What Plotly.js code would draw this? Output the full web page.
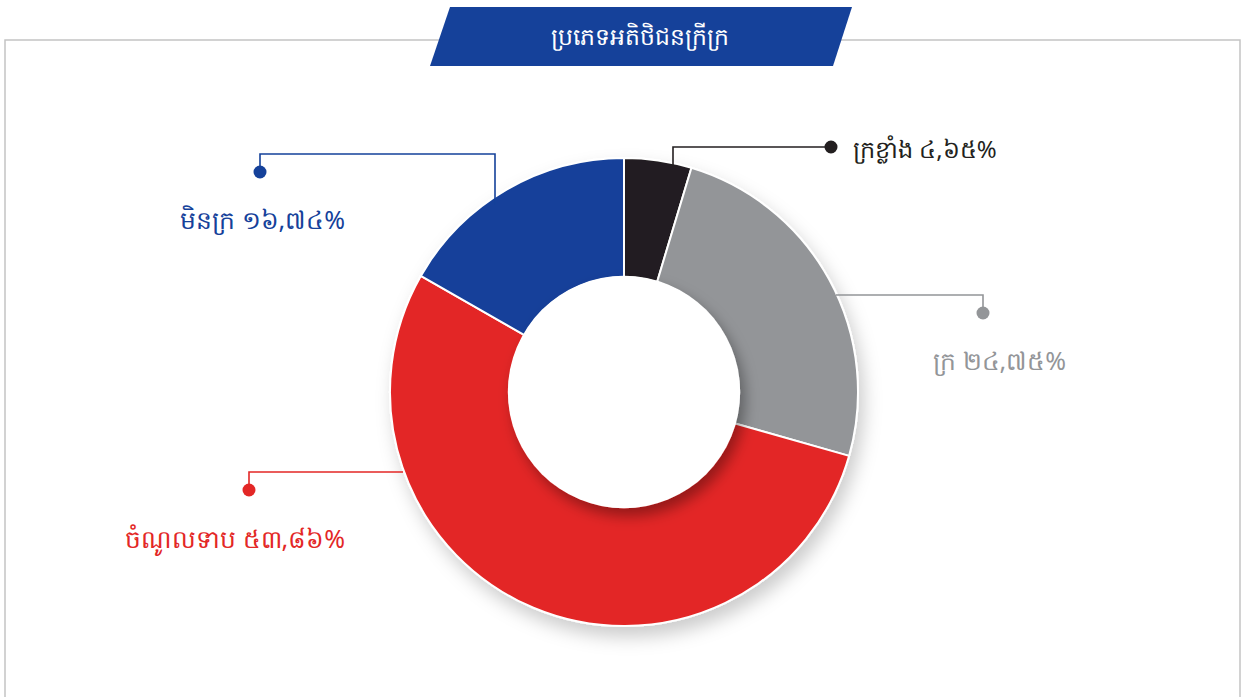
<!DOCTYPE html>
<html>
<head>
<meta charset="utf-8">
<script src="https://cdn.plot.ly/plotly-3.0.1.min.js"></script>
<style>html,body{margin:0;padding:0;background:#fff;}#chart{width:1242px;height:697px;}</style>
</head>
<body>
<div id="chart"></div>
<script>
const categories = ["ក្រខ្លាំង", "ក្រ", "ចំណូលទាប", "មិនក្រ"];
const values = [4.65, 24.75, 53.86, 16.74];
const valueLabels = ["៤,៦៥%", "២៤,៧៥%", "៥៣,៨៦%", "១៦,៧៤%"];
const colors = ["#231f20", "#939598", "#e32726", "#15419a"];
const chartTitle = "ប្រភេទអតិថិជនក្រីក្រ";

const W = 1242, H = 697;
const px = x => x / W;
const py = y => 1 - y / H;
const FONT = "Noto Sans, DejaVu Sans, sans-serif";

const cx = 624, cy = 392, R = 234, HOLE = 0.49;

const data = [{
  type: "pie",
  labels: categories,
  values: values,
  sort: false,
  direction: "clockwise",
  rotation: 0,
  hole: HOLE,
  textinfo: "none",
  hoverinfo: "label+percent",
  marker: { colors: colors, line: { color: "#ffffff", width: 2 } },
  domain: { x: [px(cx - R), px(cx + R)], y: [py(cy + R), py(cy - R)] },
  showlegend: false
}];

const shapes = [];
const lineShape = (pts, color) => ({
  type: "path", xref: "paper", yref: "paper", layer: "above",
  path: "M " + pts.map(p => px(p[0]) + "," + py(p[1])).join(" L "),
  line: { color: color, width: 1.6 }
});
const dot = (x, y, color) => ({
  type: "circle", xref: "paper", yref: "paper", layer: "above",
  x0: px(x - 6.5), x1: px(x + 6.5), y0: py(y + 6.5), y1: py(y - 6.5),
  fillcolor: color, line: { color: color, width: 0 }
});

// frame (index 0)
shapes.push({ type: "path", xref: "paper", yref: "paper", layer: "below",
  path: `M ${px(5)},${py(700)} L ${px(5)},${py(40)} L ${px(1240)},${py(40)} L ${px(1240)},${py(700)}`,
  line: { color: "#c4c4c4", width: 1.5 } });
// white hole disk with its own shadow (index 1)
const hr = R * HOLE + 1.5;
shapes.push({ type: "circle", xref: "paper", yref: "paper", layer: "above",
  x0: px(cx - hr), x1: px(cx + hr), y0: py(cy + hr), y1: py(cy - hr),
  fillcolor: "#ffffff", line: { width: 0 } });
// banner
shapes.push({ type: "path", xref: "paper", yref: "paper", layer: "above",
  path: `M ${px(450)},${py(7)} L ${px(852)},${py(7)} L ${px(833)},${py(66)} L ${px(430)},${py(66)} Z`,
  fillcolor: "#15419a", line: { width: 0 } });

// leader lines
shapes.push(lineShape([[673, 166], [673, 147], [831, 147]], colors[0]));
shapes.push(dot(831, 147, colors[0]));
shapes.push(lineShape([[836, 295], [983, 295], [983, 313]], colors[1]));
shapes.push(dot(983, 313, colors[1]));
shapes.push(lineShape([[403, 472], [249, 472], [249, 490]], colors[2]));
shapes.push(dot(249, 490, colors[2]));
shapes.push(lineShape([[495, 205], [495, 154], [260, 154], [260, 172]], colors[3]));
shapes.push(dot(260, 172, colors[3]));

const ann = (x, y, text, color, anchor, size) => ({
  xref: "paper", yref: "paper", x: px(x), y: py(y), text: text,
  showarrow: false, xanchor: anchor, yanchor: "middle",
  font: { family: FONT, size: size || 25, color: color }
});

const annotations = [
  { xref: "paper", yref: "paper", x: px(640), y: py(36), text: chartTitle, showarrow: false,
    xanchor: "center", yanchor: "middle", font: { family: FONT, size: 23.5, color: "#ffffff" } },
  ann(851, 149, categories[0] + " " + valueLabels[0], colors[0], "left", 24),
  ann(1068, 360, categories[1] + " " + valueLabels[1], colors[1], "right"),
  ann(347, 538, categories[2] + " " + valueLabels[2], colors[2], "right"),
  ann(347, 219, categories[3] + " " + valueLabels[3], colors[3], "right")
];

const layout = {
  width: W, height: H,
  margin: { l: 0, r: 0, t: 0, b: 0 },
  paper_bgcolor: "#ffffff",
  showlegend: false,
  shapes: shapes,
  annotations: annotations
};

Plotly.newPlot("chart", data, layout, { displayModeBar: false, staticPlot: true }).then(() => {
  const svg = document.querySelector("#chart svg.main-svg");
  const ns = "http://www.w3.org/2000/svg";
  let defs = svg.querySelector("defs");
  if (!defs) { defs = document.createElementNS(ns, "defs"); svg.insertBefore(defs, svg.firstChild); }
  const mk = (id, dx, dy, sd, op) => {
    const f = document.createElementNS(ns, "filter");
    f.setAttribute("id", id);
    f.setAttribute("x", "-30%"); f.setAttribute("y", "-30%");
    f.setAttribute("width", "160%"); f.setAttribute("height", "160%");
    const ds = document.createElementNS(ns, "feDropShadow");
    ds.setAttribute("dx", dx); ds.setAttribute("dy", dy);
    ds.setAttribute("stdDeviation", sd);
    ds.setAttribute("flood-color", "#000"); ds.setAttribute("flood-opacity", op);
    f.appendChild(ds); defs.appendChild(f);
  };
  mk("donutShadow", 5, 10, 9, 0.2);
  mk("holeShadow", 5, 8, 7, 0.35);
  const pie = svg.querySelector(".pielayer");
  if (pie) pie.setAttribute("filter", "url(#donutShadow)");
  const holeEl = document.querySelector('#chart .layer-above .shapelayer path[data-index="1"]');
  if (holeEl) holeEl.setAttribute("filter", "url(#holeShadow)");
});
</script>
</body>
</html>
